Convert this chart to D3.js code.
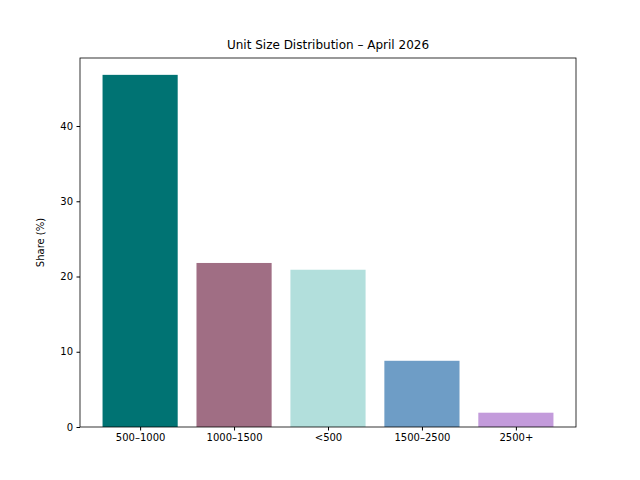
<!DOCTYPE html>
<html><head><meta charset="utf-8">
<script src="https://cdn.jsdelivr.net/npm/d3@7"></script>
<style>body{margin:0;background:#fff}</style></head>
<body><svg id="c" width="640" height="480"></svg>
<script>
const categories = ["500–1000","1000–1500","<500","1500–2500","2500+"];
const values = [46.8, 21.8, 20.9, 8.8, 1.9];
const colors = ["#007373","#a06e84","#b2dfdc","#6e9dc6","#c39bdb"];
const yTicks = [0,10,20,30,40];

const svg = d3.select("#c");
const L=80,R=576,T=58,B=427;
const x = d3.scaleLinear().domain([-0.64,4.64]).range([L,R]);
const y = d3.scaleLinear().domain([0,49.04]).range([B,T]);
const font = "DejaVu Sans, sans-serif";

svg.selectAll("rect.bar").data(values).enter().append("rect")
 .attr("x",(d,i)=>x(i-0.4)).attr("width",(d,i)=>x(i+0.4)-x(i-0.4))
 .attr("y",d=>y(d)).attr("height",d=>y(0)-y(d))
 .attr("fill",(d,i)=>colors[i]);

const ya = svg.append("g").attr("transform",`translate(${L},0)`)
 .call(d3.axisLeft(y).tickValues(yTicks).tickSize(3.5).tickPadding(3.5));
const xa = svg.append("g").attr("transform",`translate(0,${B})`)
 .call(d3.axisBottom(x).tickValues(d3.range(categories.length)).tickFormat(i=>categories[i]).tickSize(3.5).tickPadding(3.5));
[ya,xa].forEach(a=>{a.select(".domain").remove();a.selectAll("text").attr("font-family",font).attr("font-size",10).attr("fill","#000");a.selectAll("line").attr("stroke","#000");});

svg.append("rect").attr("x",L).attr("y",T).attr("width",R-L).attr("height",B-T)
 .attr("fill","none").attr("stroke","#000").attr("stroke-width",0.8);

svg.append("text").attr("x",(L+R)/2).attr("y",T-9).attr("text-anchor","middle")
 .attr("font-family",font).attr("font-size",12).text("Unit Size Distribution – April 2026");
svg.append("text").attr("transform",`translate(44,${(T+B)/2}) rotate(-90)`).attr("text-anchor","middle")
 .attr("font-family",font).attr("font-size",10).text("Share (%)");
</script></body></html>
